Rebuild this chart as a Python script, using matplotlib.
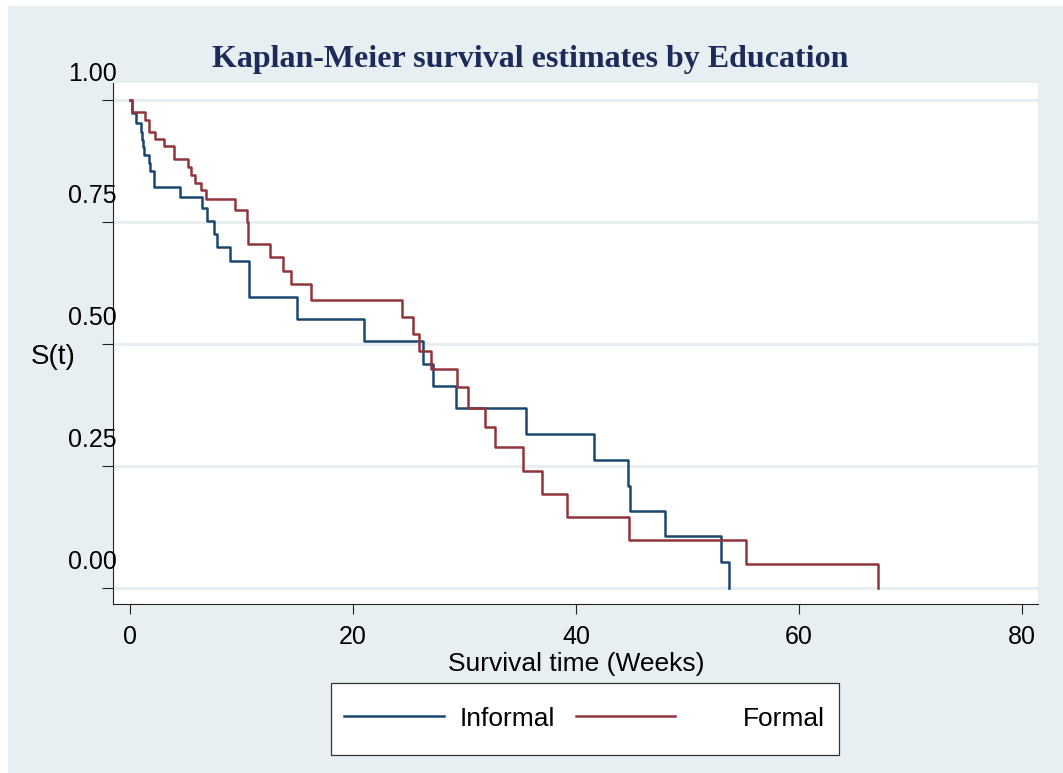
import matplotlib
matplotlib.use('Agg')
import matplotlib.pyplot as plt
from matplotlib.patches import Rectangle
from matplotlib.lines import Line2D
from matplotlib.transforms import offset_copy

# Kaplan-Meier step estimates (time in weeks, survival probability)
informal_t = [0, 0.15, 0.51, 0.96, 1.10, 1.19, 1.26, 1.70, 1.79, 2.15, 4.48, 6.43,
              6.88, 7.56, 7.77, 8.97, 10.67, 15.0, 21.0, 26.25, 27.2, 29.2, 35.5,
              41.6, 44.7, 44.8, 48.0, 53.0, 53.7]
informal_s = [1.0, 0.973, 0.953, 0.935, 0.918, 0.904, 0.887, 0.870, 0.855, 0.821, 0.802,
              0.778, 0.752, 0.725, 0.699, 0.671, 0.596, 0.551, 0.506, 0.459, 0.413,
              0.368, 0.316, 0.262, 0.209, 0.158, 0.106, 0.054, 0.0]

formal_t = [0, 0.21, 1.35, 1.73, 2.24, 3.05, 3.95, 5.23, 5.44, 5.83, 6.34, 6.82, 9.42,
            10.47, 10.58, 12.56, 13.72, 14.44, 16.27, 24.36, 25.35, 25.92, 26.97,
            29.30, 30.34, 31.84, 32.74, 35.22, 36.92, 39.15, 44.71, 55.22, 67.11]
formal_s = [1.0, 0.975, 0.960, 0.934, 0.921, 0.906, 0.879, 0.862, 0.846, 0.831, 0.816,
            0.797, 0.775, 0.750, 0.704, 0.678, 0.649, 0.623, 0.590, 0.556, 0.520,
            0.486, 0.448, 0.411, 0.369, 0.329, 0.288, 0.240, 0.193, 0.145, 0.098,
            0.050, 0.0]

y_ticks = [0.00, 0.25, 0.50, 0.75, 1.00]
x_ticks = [0, 20, 40, 60, 80]
group_labels = ['Informal', 'Formal']

W, H = 1063, 773
BG = '#e8eff2'
NAVY = '#1a476f'
MAROON = '#90353b'
TITLE_COLOR = '#1c2b5a'
SANS = 'Liberation Sans'
SERIF = 'Liberation Serif'


def fx(px):
    return px / W


def fy(py):
    return 1 - py / H


fig = plt.figure(figsize=(W / 100, H / 100), dpi=100)
fig.patch.set_facecolor('white')
fig.patches.append(Rectangle((fx(8), 0), 1 - fx(8), fy(6), transform=fig.transFigure,
                             facecolor=BG, edgecolor='none', zorder=-5))

ax = fig.add_axes([fx(113), fy(604), fx(1038) - fx(113), fy(83) - fy(604)])
ax.set_zorder(1)
ax.set_facecolor('white')
ax.set_xlim(-1.52, 81.43)
ax.set_ylim(-0.033, 1.035)

for v in y_ticks:
    ax.axhline(v, color=BG, lw=2.2, zorder=1)

l1, = ax.plot(informal_t, informal_s, drawstyle='steps-post', color=NAVY, lw=1.8, zorder=3)
l2, = ax.plot(formal_t, formal_s, drawstyle='steps-post', color=MAROON, lw=1.8, zorder=3)

for side in ['top', 'right']:
    ax.spines[side].set_visible(False)
for side in ['left', 'bottom']:
    ax.spines[side].set_color('#222222')
    ax.spines[side].set_linewidth(0.8)

ax.set_yticks(y_ticks)
ax.tick_params(axis='y', length=8, width=0.8, color='#222222', labelleft=False)
ax.set_xticks(x_ticks)
ax.set_xticklabels([str(v) for v in x_ticks], fontsize=18, family=SANS)
ax.tick_params(axis='x', length=7.5, width=0.8, color='#222222', pad=7.5)

# y labels sit above their tick marks
ylab_tr = offset_copy(ax.get_yaxis_transform(), fig=fig, x=4, y=19, units='dots')
for v in y_ticks:
    ax.text(0, v, f'{v:.2f}', transform=ylab_tr, ha='right', va='baseline',
            fontsize=18, family=SANS, clip_on=False, zorder=5)

fig.text(fx(53), fy(357), 'S(t)', ha='center', va='center', fontsize=20, family=SANS)
fig.text(fx(576), fy(671), 'Survival time (Weeks)', ha='center', va='baseline',
         fontsize=19, family=SANS)
fig.text(fx(530.5), fy(66.7), 'Kaplan-Meier survival estimates by Education',
         ha='center', va='baseline', fontsize=23, fontweight='bold', family=SERIF,
         color=TITLE_COLOR)

# legend box
fig.patches.append(Rectangle((fx(331), fy(755)), fx(839) - fx(331), fy(683) - fy(755),
                             transform=fig.transFigure, facecolor='white',
                             edgecolor='#333333', lw=0.9, zorder=2))
fig.lines.append(Line2D([fx(344), fx(444)], [fy(716), fy(716)], transform=fig.transFigure,
                        color=l1.get_color(), lw=1.8, zorder=3))
fig.lines.append(Line2D([fx(576), fx(675)], [fy(716), fy(716)], transform=fig.transFigure,
                        color=l2.get_color(), lw=1.8, zorder=3))
fig.text(fx(460), fy(726), group_labels[0], ha='left', va='baseline', fontsize=19, family=SANS)
fig.text(fx(825), fy(726), group_labels[1], ha='right', va='baseline', fontsize=19, family=SANS)

fig.savefig('out.png', dpi=100)
